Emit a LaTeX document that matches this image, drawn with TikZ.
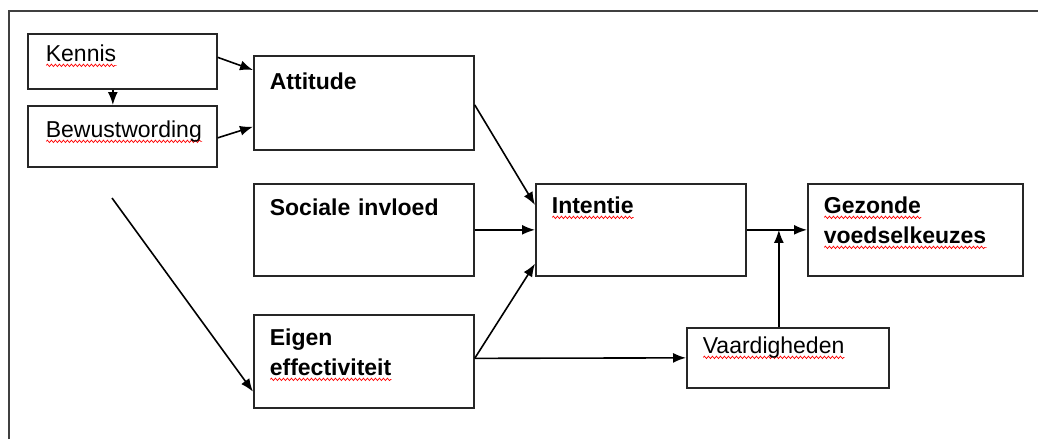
\documentclass[tikz,border=0pt]{standalone}
\usepackage{fontspec}
\setmainfont{Liberation Sans}
\usetikzlibrary{arrows.meta}
\usetikzlibrary{calc}
\usetikzlibrary{decorations.pathmorphing}

\newlength\spelwd
\newcommand\spel[1]{\leavevmode\settowidth{\spelwd}{#1}%
  \rlap{\tikz[baseline=0pt]\draw[red, line width=0.7pt, decorate,
    decoration={snake, amplitude=1.2pt, segment length=4pt}]
    (0pt,-3.5pt) -- (\spelwd,-3.5pt);}#1}

\begin{document}
\begin{tikzpicture}[x=1pt, y=-1pt, >={Latex[length=13pt,width=10pt]},
    font=\fontsize{23}{30}\selectfont]
    \tikzset{blok/.style={draw=black!85, line width=1.7pt, anchor=north west,
        inner xsep=16pt, inner ysep=0pt, align=left, text height=30pt},
        vet/.style={font=\fontsize{23}{30}\selectfont\bfseries},
        pijl/.style={->, line width=1.6pt}}
    \useasboundingbox (0,0) rectangle (1038,439);
    \draw[black!75, line width=2pt] (9,439) -- (9,11) -- (1038,11);

    \node[blok, inner xsep=18pt, text width=153pt, text height=28pt, text depth=27pt] (kennis) at (27,33) {\spel{Kennis}};
    \node[blok, inner xsep=18pt, text width=153pt, text height=32pt, text depth=29pt] (bewust) at (27,105) {\spel{Bewustwording}};
    \node[blok, vet, text width=188pt, text height=34pt, text depth=60pt] (attitude) at (253,55) {Attitude};
    \node[blok, vet, text width=188pt, text height=32pt, text depth=60pt] (sociale) at (253,183) {Sociale invloed};
    \node[blok, vet, text width=188pt, text height=31pt, text depth=62pt] (eigen) at (253,314) {Eigen\\\spel{effectiviteit}};
    \node[blok, vet, text width=178pt, text depth=62pt] (intentie) at (535,183) {\spel{Intentie}};
    \node[blok, vet, text width=183pt, text depth=62pt] (gezonde) at (807,183) {\spel{Gezonde}\\\spel{voedselkeuzes}};
    \node[blok, text width=170pt, text height=26pt, text depth=34pt] (vaard) at (686,327) {\spel{Vaardigheden}};

    \coordinate (begin) at (112,198);
    \draw[pijl] ([xshift=-9.5pt]kennis.south) -- ([xshift=-9.5pt]bewust.north);
    \draw[pijl] ([yshift=4pt]kennis.east) -- ([yshift=-15pt]attitude.north west);
    \draw[pijl] ([yshift=-1.5pt]bewust.east) -- ([yshift=24pt]attitude.south west);
    \draw[pijl] ([yshift=-2pt]attitude.east) -- ([yshift=-22pt]intentie.north west);
    \draw[pijl] (sociale.east) -- (intentie.west);
    \draw[pijl] ([yshift=3pt]eigen.east) -- ([yshift=13pt]intentie.south west);
    \draw[pijl] ([yshift=3pt]eigen.east) -- (vaard.west);
    \draw[pijl] (intentie.east) -- (gezonde.west);
    \draw[pijl] ([xshift=-9pt]vaard.north) -- ([xshift=-9pt]vaard.north |- intentie.east);
    \draw[pijl] (begin) -- ([yshift=17pt]eigen.south west);
\end{tikzpicture}
\end{document}
